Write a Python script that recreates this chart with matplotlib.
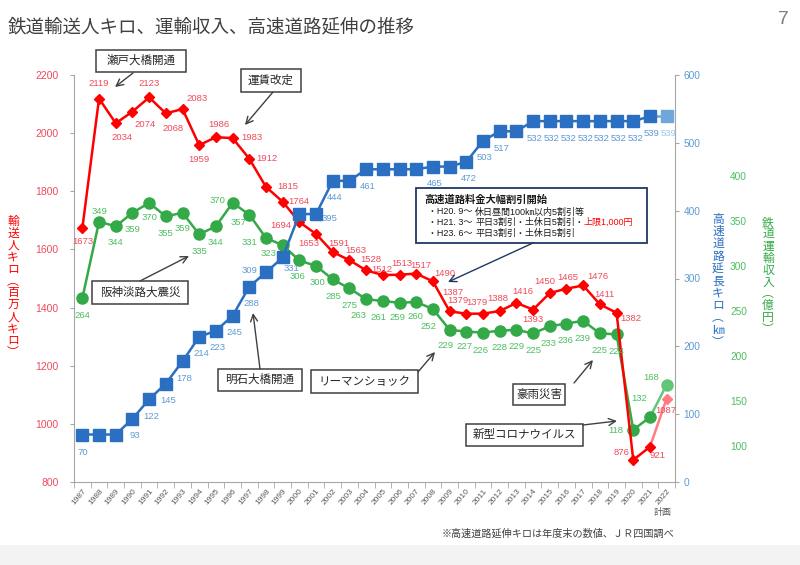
import matplotlib
matplotlib.use('Agg')
import matplotlib.pyplot as plt
from matplotlib.patches import Rectangle

plt.rcParams['font.family'] = ['Liberation Sans', 'Noto Sans CJK JP', 'DejaVu Sans']

# データ（1987〜2022年度、2022は計画）
years = list(range(1987, 2023))
passenger_km = [1673, 2119, 2034, 2074, 2123, 2068, 2083, 1959, 1986, 1983,
                1912, 1815, 1764, 1694, 1653, 1591, 1563, 1528, 1512, 1513,
                1517, 1490, 1387, 1379, 1379, 1388, 1416, 1393, 1450, 1465,
                1476, 1411, 1382, 876, 921, 1087]
revenue = [264, 349, 344, 359, 370, 355, 359, 335, 344, 370,
           357, 331, 323, 306, 300, 285, 275, 263, 261, 259,
           260, 252, 229, 227, 226, 228, 229, 225, 233, 236,
           239, 225, 224, 118, 132, 168]
expressway_km = [70, 70, 70, 93, 122, 145, 178, 214, 223, 245,
                 288, 309, 331, 395, 395, 444, 444, 461, 461, 461,
                 461, 465, 465, 472, 503, 517, 517, 532, 532, 532,
                 532, 532, 532, 532, 539, 539]
expressway_unlabeled = [1988, 1989, 2000, 2003, 2005, 2006, 2007, 2009, 2013]

# ラベル位置（画像ピクセル、yは下向き）
red_off = [(0, 13), (0, -15), (6, 14), (13, 13), (0, -14), (7, 15), (15, -11), (0, 14), (3, -13), (19, -1),
           (18, 0), (22, 0), (16, 0), (-19, 3), (-7, 9), (6, -9), (6, -10), (5, -11), (-1, -6), (2, -11),
           (5, -8), (12, -8), (3, -19), (-8, -13), (-6, -11), (-2, -13), (6, -11), (0, 10), (-5, -12), (1, -11),
           (15, -9), (5, -10), (14, 6), (-12, -7), (8, 9), (-1, 12)]
green_off = [(0, 17), (0, -10), (0, 16), (0, 17), (0, 15), (0, 17), (0, 16), (0, 17), (0, 16), (-15, -2),
             (-11, 8), (-17, 5), (-14, 8), (-2, 16), (1, 17), (1, 17), (0, 17), (-8, 16), (-4, 16), (-2, 15),
             (-1, 15), (-4, 17), (-4, 16), (-2, 15), (-3, 18), (0, 17), (0, 17), (0, 17), (-1, 17), (-1, 17),
             (-1, 18), (0, 17), (0, 17), (-17, 1), (-11, -19), (-15, -7)]
blue_off_default = (2, 17)
blue_off = {1987: (0, 18), 1998: (-16, -2), 1999: (9, 11), 2001: (13, 4)}

RED, RED_L, RED_T = '#FF0000', '#FF7C80', '#EE4B5B'
GREEN, GREEN_L, GREEN_T = '#34A947', '#62C679', '#4CBF60'
BLUE, BLUE_L, BLUE_T = '#2A6FC2', '#6FA7DD', '#5B9BD5'
GRAY = '#A6A6A6'

W, H = 800, 565
fig = plt.figure(figsize=(8, 5.65), dpi=100)
fig.patch.set_facecolor('white')

ax_r = fig.add_axes([74 / W, 1 - 482 / H, 601 / W, 407 / H])
ax_g = ax_r.twinx()
ax_b = ax_r.twinx()
ax_g.set_zorder(1)
ax_r.set_zorder(2)
ax_b.set_zorder(3)
for a in (ax_r, ax_g, ax_b):
    a.patch.set_visible(False)
    a.spines['top'].set_visible(False)

x = list(range(len(years)))


def draw_series(ax, vals, color, light, marker, ms):
    ax.plot(x[-2:], vals[-2:], color=light, lw=1.8, zorder=2)
    ax.plot(x[:-1], vals[:-1], color=color, lw=1.8, marker=marker, ms=ms,
            mfc=color, mec=color, zorder=3)
    ax.plot(x[-1:], vals[-1:], ls='none', marker=marker, ms=ms,
            mfc=light, mec=light, zorder=3)


draw_series(ax_g, revenue, GREEN, GREEN_L, 'o', 8)
draw_series(ax_r, passenger_km, RED, RED_L, 'D', 5)
draw_series(ax_b, expressway_km, BLUE, BLUE_L, 's', 8)

# 左軸（輸送人キロ）
ax_r.set_xlim(-0.5, len(years) - 0.5)
ax_r.set_ylim(800, 2200)
ax_r.set_yticks(range(800, 2201, 200))
ax_r.tick_params(axis='y', colors=GRAY, labelcolor=RED_T, labelsize=7.5, length=3, pad=8)
ax_r.spines['left'].set_color(GRAY)
ax_r.spines['bottom'].set_color(GRAY)
ax_r.spines['right'].set_visible(False)
ax_r.set_xticks(x)
ax_r.set_xticklabels([str(y) for y in years], rotation=50, ha='right',
                     rotation_mode='anchor', fontsize=6, color='#595959')
ax_r.set_xticks([i - 0.5 for i in range(len(years) + 1)], minor=True)
ax_r.tick_params(axis='x', which='major', length=0, pad=4)
ax_r.tick_params(axis='x', which='minor', length=4, color=GRAY)

# 右軸（高速道路延長キロ）
ax_b.set_ylim(0, 600)
ax_b.set_yticks(range(0, 601, 100))
ax_b.tick_params(axis='y', colors=GRAY, labelcolor=BLUE_T, labelsize=7.3, length=3, pad=3)
ax_b.spines['right'].set_color(GRAY)
for s in ('left', 'bottom'):
    ax_b.spines[s].set_visible(False)

# 右軸2（鉄道運輸収入）
ax_g.set_ylim(60, 512)
ax_g.set_yticks(range(100, 401, 50))
ax_g.spines['right'].set_position(('axes', 1 + 55 / 601))
for s in ('left', 'bottom', 'right'):
    ax_g.spines[s].set_visible(False)
ax_g.tick_params(axis='y', length=0, pad=0, labelcolor=GREEN_T, labelsize=7.3)

# 重ね描き用（ピクセル座標）
ov = fig.add_axes([0, 0, 1, 1])
ov.set_zorder(10)
ov.set_xlim(0, W)
ov.set_ylim(H, 0)
ov.axis('off')
ov.patch.set_visible(False)

# データラベル
for i, v in enumerate(passenger_km):
    dx, dy = red_off[i]
    ov.annotate(str(v), (i, v), xycoords=ax_r.transData, xytext=(dx, -dy),
                textcoords='offset pixels', ha='center', va='center',
                fontsize=6.8, color=RED_T)
for i, v in enumerate(revenue):
    dx, dy = green_off[i]
    ov.annotate(str(v), (i, v), xycoords=ax_g.transData, xytext=(dx, -dy),
                textcoords='offset pixels', ha='center', va='center',
                fontsize=6.8, color=GREEN_T)
for i, v in enumerate(expressway_km):
    if years[i] in expressway_unlabeled:
        continue
    dx, dy = blue_off.get(years[i], blue_off_default)
    col = '#9DC3E6' if i == len(years) - 1 else BLUE_T
    ov.annotate(str(v), (i, v), xycoords=ax_b.transData, xytext=(dx, -dy),
                textcoords='offset pixels', ha='center', va='center',
                fontsize=6.8, color=col)


def vtext(xc, y0, s, step, **kw):
    for k, ch in enumerate(s):
        ov.text(xc, y0 + k * step, ch, ha='center', va='center', **kw)


vtext(13, 222, '輸送人キロ︵百万人キロ︶', 11.9, fontsize=8.5, color=RED)
vtext(718, 220, '高速道路延長キロ︵㎞︶', 12.3, fontsize=8.5, color=BLUE)
vtext(768, 223, '鉄道運輸収入︵億円︶', 11.9, fontsize=8.5, color=GREEN)

# タイトル等
ov.text(8, 27, '鉄道輸送人キロ、運輸収入、高速道路延伸の推移', ha='left', va='center',
        fontsize=13.3, color='#404040', family=['Noto Sans CJK JP'])
ov.text(783, 20, '7', ha='center', va='center', fontsize=14, color='#808080')
ov.text(663, 512, '計画', ha='center', va='center', fontsize=6.5, color='#595959')
ov.text(442, 534, '※高速道路延伸キロは年度末の数値、ＪＲ四国調べ', ha='left', va='center',
        fontsize=7.3, color='#404040')
ov.add_patch(Rectangle((0, 545), W, 20, facecolor='#F3F3F3', edgecolor='none'))

# 吹き出し
callouts = [
    ('瀬戸大橋開通', (96, 50, 186, 72), (133, 73), (115, 87)),
    ('運賃改定', (241, 69, 301, 92), (273, 92), (245, 125)),
    ('阪神淡路大震災', (92, 281, 188, 304), (140, 281), (189, 256)),
    ('明石大橋開通', (218, 369, 302, 391), (260, 369), (253, 313)),
    ('リーマンショック', (311, 370, 418, 393), (418, 372), (435, 352)),
    ('豪雨災害', (513, 384, 565, 405), (574, 383), (593, 360)),
    ('新型コロナウイルス', (466, 424, 583, 446), (583, 425), (617, 421)),
]
for label, (x0, y0, x1, y1), tail, head in callouts:
    ov.add_patch(Rectangle((x0, y0), x1 - x0, y1 - y0, facecolor='white',
                           edgecolor='#404040', lw=1.1))
    ov.text((x0 + x1) / 2, (y0 + y1) / 2, label, ha='center', va='center',
            fontsize=8.3, color='#262626')
    ov.annotate('', xy=head, xytext=tail,
                arrowprops=dict(arrowstyle='->,head_length=0.5,head_width=0.25',
                                color='#404040', lw=1.0, shrinkA=0, shrinkB=0))

# 高速道路料金の説明枠
NAVY = '#1F3864'
ov.add_patch(Rectangle((416, 188), 231, 55, facecolor='white', edgecolor=NAVY, lw=1.3))
ov.annotate('', xy=(448, 282), xytext=(533, 243),
            arrowprops=dict(arrowstyle='->,head_length=0.5,head_width=0.25',
                            color=NAVY, lw=1.0, shrinkA=0, shrinkB=0))
ov.text(424, 200, '高速道路料金大幅割引開始', ha='left', va='center', fontsize=7.4,
        fontweight='bold', color='#1a1a1a')
rows = [('・H20. 9～', '休日昼間100㎞以内5割引等'),
        ('・H21. 3～', '平日3割引・土休日5割引・'),
        ('・H23. 6～', '平日3割引・土休日5割引')]
for k, (a, b) in enumerate(rows):
    yy = 212 + k * 10.5
    ov.text(428, yy, a, ha='left', va='center', fontsize=6.5, color='#1a1a1a')
    t = ov.text(475, yy, b, ha='left', va='center', fontsize=6.5, color='#1a1a1a')
    if k == 1:
        ov.annotate('上限1,000円', xy=(1, 0.5), xycoords=t, ha='left', va='center',
                    fontsize=6.5, color='#FF0000')

fig.savefig('out.png', dpi=100)
